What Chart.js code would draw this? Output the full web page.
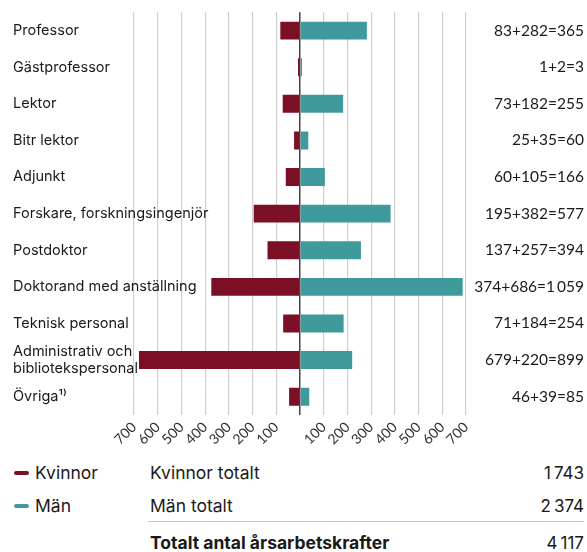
<!DOCTYPE html>
<html>
<head>
<meta charset="utf-8">
<script src="https://cdn.jsdelivr.net/npm/chart.js@4/dist/chart.umd.min.js"></script>
<style>
  html, body { margin: 0; padding: 0; background: #fff; }
  body { width: 587px; height: 552px; position: relative; overflow: hidden; font-family: Inter, "Noto Sans", sans-serif; color: #1a1a1a; }
  #wrap { position: absolute; left: 0; top: 0; width: 587px; height: 450px; }
  .abs { position: absolute; white-space: nowrap; line-height: 1; }
  .dash { position: absolute; width: 15px; height: 4px; border-radius: 2px; }
  .lbl { font-size: 17.5px; }
  .num { font-size: 17px; text-align: right; right: 3px; }
</style>
</head>
<body>
<div id="wrap"><canvas id="c" width="587" height="450"></canvas></div>

<div class="dash" style="left:14px;top:471px;background:#7a0f26"></div>
<div class="abs lbl" style="left:35px;top:464px">Kvinnor</div>
<div class="dash" style="left:14px;top:504px;background:#3f9a9b"></div>
<div class="abs lbl" style="left:35px;top:497px">Män</div>

<div class="abs lbl" style="left:150px;top:464px">Kvinnor totalt</div>
<div class="abs num" style="top:465px" id="tw"></div>
<div class="abs lbl" style="left:150px;top:497px">Män totalt</div>
<div class="abs num" style="top:498px" id="tm"></div>
<div style="position:absolute;left:148px;top:521px;width:436px;height:1px;background:#c8c8c8"></div>
<div class="abs lbl" style="left:150px;top:534px;font-weight:700">Totalt antal årsarbetskrafter</div>
<div class="abs num" style="top:535px" id="tt"></div>

<script>
const categories = [
  'Professor', 'Gästprofessor', 'Lektor', 'Bitr lektor', 'Adjunkt',
  'Forskare, forskningsingenjör', 'Postdoktor', 'Doktorand med anställning',
  'Teknisk personal', ['Administrativ och', 'bibliotekspersonal'], 'Övriga¹⁾'
];
const women = [83, 1, 73, 25, 60, 195, 137, 374, 71, 679, 46];
const men = [282, 2, 182, 35, 105, 382, 257, 686, 184, 220, 39];
const rowTotals = [365, 3, 255, 60, 166, 577, 394, 1059, 254, 899, 85];
const xTicks = [-700, -600, -500, -400, -300, -200, -100, 0, 100, 200, 300, 400, 500, 600, 700];
const totalWomen = 1743;
const totalMen = 2374;
const totalAll = 4117;

const fmt = n => String(n).replace(/\B(?=(\d{3})+(?!\d))/g, '\u2009');
const sumLabels = women.map((w, i) => w + '+' + men[i] + '=' + fmt(rowTotals[i]));

document.getElementById('tw').textContent = fmt(totalWomen);
document.getElementById('tm').textContent = fmt(totalMen);
document.getElementById('tt').textContent = fmt(totalAll);

new Chart(document.getElementById('c'), {
  type: 'bar',
  data: {
    labels: categories,
    datasets: [
      { label: 'Kvinnor', data: women.map(v => -v), backgroundColor: '#7a0f26', minBarLength: 2 },
      { label: 'Män', data: men, backgroundColor: '#3f9a9b', minBarLength: 2 }
    ]
  },
  options: {
    indexAxis: 'y',
    responsive: false,
    animation: false,
    events: [],
    layout: { padding: { left: 13, right: 3, top: 8, bottom: 0 } },
    datasets: { bar: { categoryPercentage: 1, barPercentage: 0.49 } },
    plugins: { legend: { display: false }, tooltip: { enabled: false } },
    scales: {
      x: {
        stacked: true,
        min: -700, max: 700,
        afterBuildTicks: s => { s.ticks = xTicks.map(v => ({ value: v })); },
        afterFit: s => { s.height = 35; },
        grid: {
          drawTicks: false,
          color: c => (c.tick && c.tick.value === 0) ? '#444' : '#cfcfcf',
          lineWidth: c => (c.tick && c.tick.value === 0) ? 1.5 : 1.2
        },
        border: { display: false },
        ticks: {
          autoSkip: false,
          maxRotation: 45, minRotation: 45, padding: 4,
          color: '#333',
          font: { family: 'Lato', size: 14 },
          callback: v => v === 0 ? '' : String(Math.abs(v))
        }
      },
      y: {
        stacked: true,
        position: 'left',
        afterFit: s => { s.width = 121; s._computeLabelArea = () => undefined; },
        grid: { display: false },
        border: { display: false },
        ticks: {
          crossAlign: 'far',
          color: '#1a1a1a',
          font: { family: 'Inter', size: 14.5, lineHeight: 1.12 }
        }
      },
      y2: {
        type: 'category',
        labels: sumLabels,
        position: 'right',
        offset: true,
        afterFit: s => { s.width = 118; },
        grid: { display: false },
        border: { display: false },
        ticks: {
          crossAlign: 'far',
          color: '#1a1a1a',
          font: { family: 'Lato', size: 15.5 }
        }
      }
    }
  }
});
</script>
</body>
</html>
